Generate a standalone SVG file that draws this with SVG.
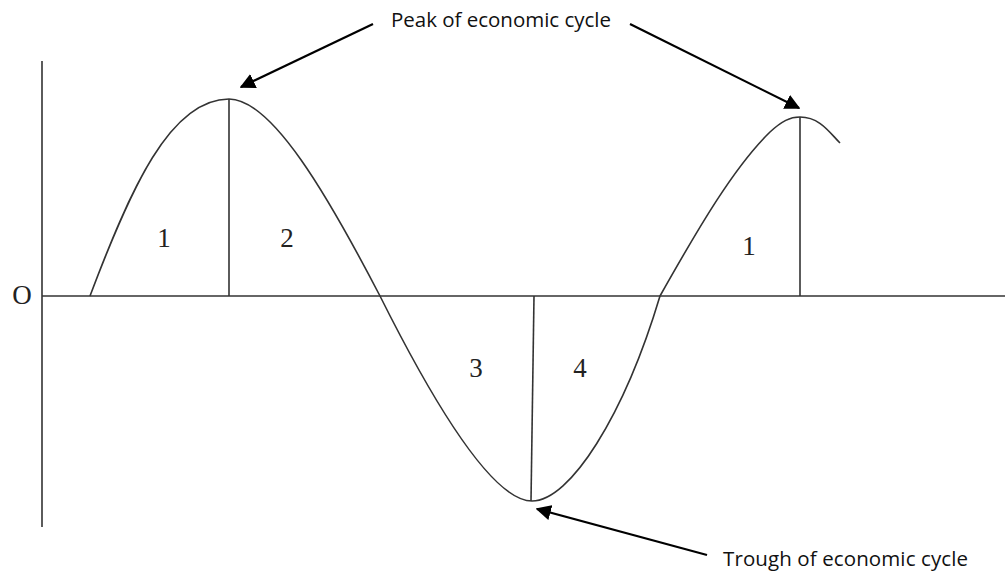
<svg xmlns="http://www.w3.org/2000/svg" width="1005" height="577" viewBox="0 0 1005 577">
<defs>
<style>
.ln{stroke:#333;stroke-width:1.6;fill:none}
.ar{stroke:#000;stroke-width:2.2;fill:none}
.num{font-family:"Liberation Serif",serif;font-size:27px;fill:#222;text-anchor:middle}
.lbl{font-family:"Open Sans",sans-serif;font-size:20.5px;fill:#111}
</style>
<marker id="ah" viewBox="0 0 10 10" refX="9" refY="5" markerWidth="7" markerHeight="7" markerUnits="strokeWidth" orient="auto">
<path d="M0,0 L10,5 L0,10 z" fill="#000"/>
</marker>
</defs>
<rect width="1005" height="577" fill="#fff"/>
<g id="axes">
<line class="ln" x1="42" y1="61" x2="42" y2="527"/>
<line class="ln" x1="42" y1="296" x2="1005" y2="296"/>
<text class="num" x="22" y="304">O</text>
</g>
<g id="cycle">
<path class="ln" d="M90,296 C130,190 170,99 229,99 C272,99 328,196 380,296 C440,416 495,501 532,501 C570,501 624,416 660,296 C700,225 735,166 770,132 C782,121 790,117 800,117 C820,117 830,133 840,143"/>
<line class="ln" x1="229" y1="99" x2="229" y2="296"/>
<line class="ln" x1="534" y1="296" x2="531" y2="501"/>
<line class="ln" x1="800" y1="117" x2="800" y2="296"/>
</g>
<g id="phases">
<text class="num" x="164" y="247">1</text>
<text class="num" x="287" y="247">2</text>
<text class="num" x="476" y="377">3</text>
<text class="num" x="580" y="377">4</text>
<text class="num" x="749" y="255">1</text>
</g>
<g id="connectors">
<line class="ar" x1="373" y1="24" x2="241" y2="87" marker-end="url(#ah)"/>
<line class="ar" x1="630" y1="24" x2="799" y2="108" marker-end="url(#ah)"/>
<line class="ar" x1="707" y1="555" x2="537" y2="509" marker-end="url(#ah)"/>
</g>
<g id="peak-label"><text class="lbl" x="391" y="27" textLength="220">Peak of economic cycle</text></g>
<g id="trough-label"><text class="lbl" x="723" y="566" textLength="245">Trough of economic cycle</text></g>
</svg>
